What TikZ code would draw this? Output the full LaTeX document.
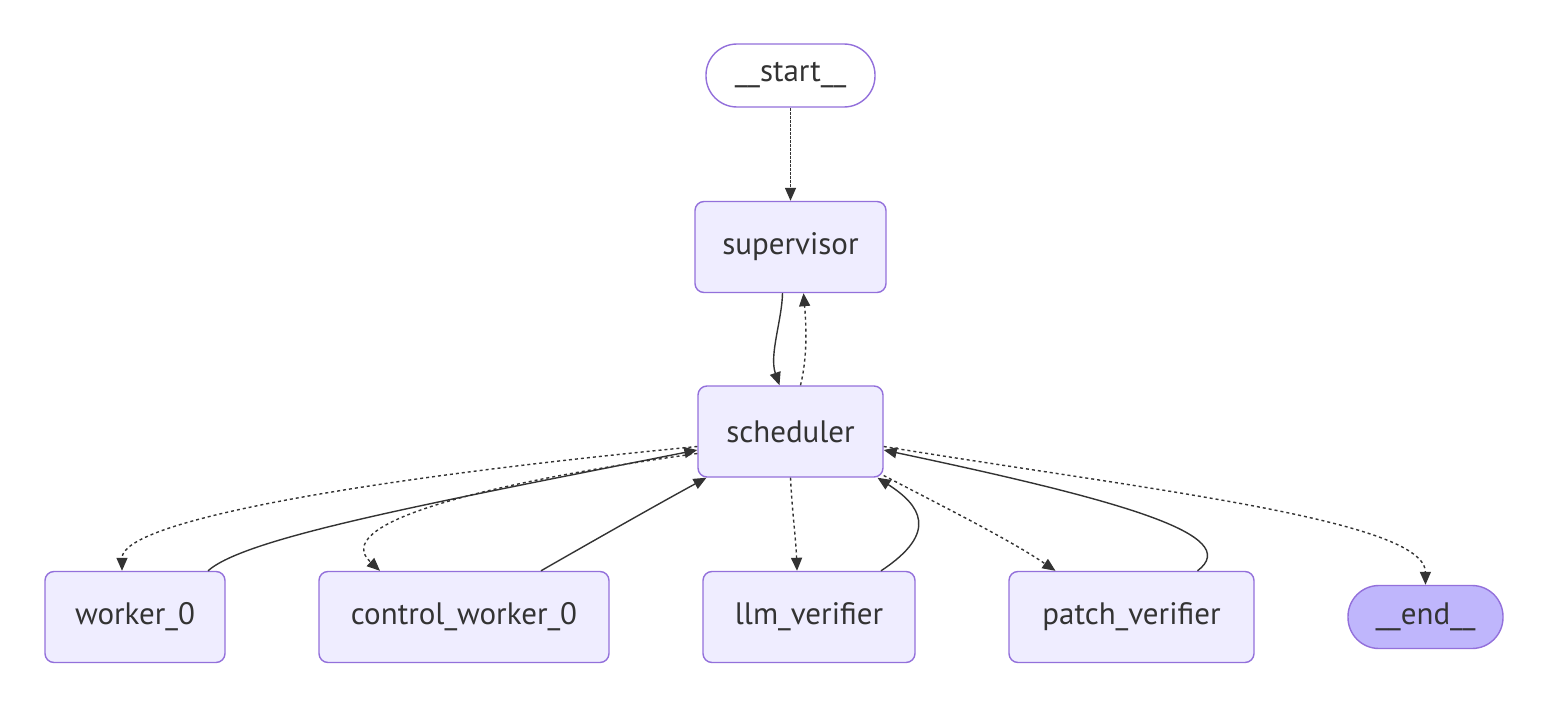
\documentclass[tikz,border=0pt]{standalone}
\usepackage{fontspec}
\setmainfont{PT Sans}
\usetikzlibrary{arrows.meta}
\definecolor{nodefill}{HTML}{EFEDFF}
\definecolor{nodeline}{HTML}{9370DB}
\definecolor{endfill}{HTML}{BFB6FC}
\definecolor{edgecol}{HTML}{333333}
\begin{document}
\begin{tikzpicture}[x=1pt,y=-1pt,
  box/.style={draw=nodeline,fill=nodefill,line width=1.4pt,rounded corners=9pt,
    minimum height=91pt,text=edgecol,font=\fontsize{31}{35}\selectfont,inner sep=0pt},
  pill/.style={draw=nodeline,line width=1.4pt,rounded corners=31pt,
    minimum height=63pt,text=edgecol,font=\fontsize{31}{35}\selectfont,inner sep=0pt},
  edge/.style={draw=edgecol,line width=1.4pt,-{Triangle[length=13pt,width=11pt]}},
  dotedge/.style={edge,dash pattern=on 3pt off 3pt},
  startedge/.style={edge,dash pattern=on 3pt off 1pt}
]
\useasboundingbox (0,0) rectangle (1548,709);
\node[pill,fill=white,minimum width=169pt] (start) at (790.5,75.5) {\_\_start\_\_};
\node[box,minimum width=191pt] (sup) at (790.5,247) {supervisor};
\node[box,minimum width=185pt] (sched) at (790.5,431.5) {scheduler};
\node[box,minimum width=180pt] (w0) at (135,617) {worker\_0};
\node[box,minimum width=290pt] (cw0) at (464,617) {control\_worker\_0};
\node[box,minimum width=212pt] (llm) at (809,617) {llm\_verifier};
\node[box,minimum width=245pt] (patch) at (1131.5,617) {patch\_verifier};
\node[pill,fill=endfill,minimum width=155pt] (end) at (1425.5,617) {\_\_end\_\_};

% start -> supervisor
\draw[startedge] (start.south) -- (sup.north);
% supervisor <-> scheduler
\draw[edge] ([xshift=-8pt]sup.south) .. controls (782,320) and (769,355) .. ([xshift=-11pt]sched.north);
\draw[dotedge] ([xshift=10pt]sched.north) .. controls (808,355) and (806,322) .. ([xshift=13pt]sup.south);
% scheduler <-> worker_0
\draw[dotedge] ([yshift=-15pt]sched.west) .. controls (350,480) and (122,522) .. ([xshift=-13pt]w0.north);
\draw[edge] ([xshift=73pt]w0.north) .. controls (245,538) and (420,505) .. ([yshift=-18.5pt]sched.west);
% scheduler <-> control_worker_0
\draw[dotedge] ([yshift=-22pt]sched.west) .. controls (470,485) and (330,525) .. ([xshift=-84pt]cw0.north);
\draw[edge] ([xshift=77pt]cw0.north) .. controls (600,537) and (660,503) .. ([xshift=-84pt]sched.south);
% scheduler <-> llm_verifier
\draw[dotedge] (sched.south) .. controls (792,510) and (796,540) .. ([xshift=-12pt]llm.north);
\draw[edge] ([xshift=72pt]llm.north) .. controls (940,532) and (920,505) .. ([xshift=87pt]sched.south);
% scheduler <-> patch_verifier
\draw[dotedge] ([yshift=-44pt]sched.east) .. controls (950,510) and (1010,540) .. ([xshift=-76pt]patch.north);
\draw[edge] ([xshift=66pt]patch.north) .. controls (1245,535) and (1120,500) .. ([yshift=-18.5pt]sched.east);
% scheduler -> end
\draw[dotedge] ([yshift=-15pt]sched.east) .. controls (1150,490) and (1425,520) .. (end.north);
\end{tikzpicture}
\end{document}
